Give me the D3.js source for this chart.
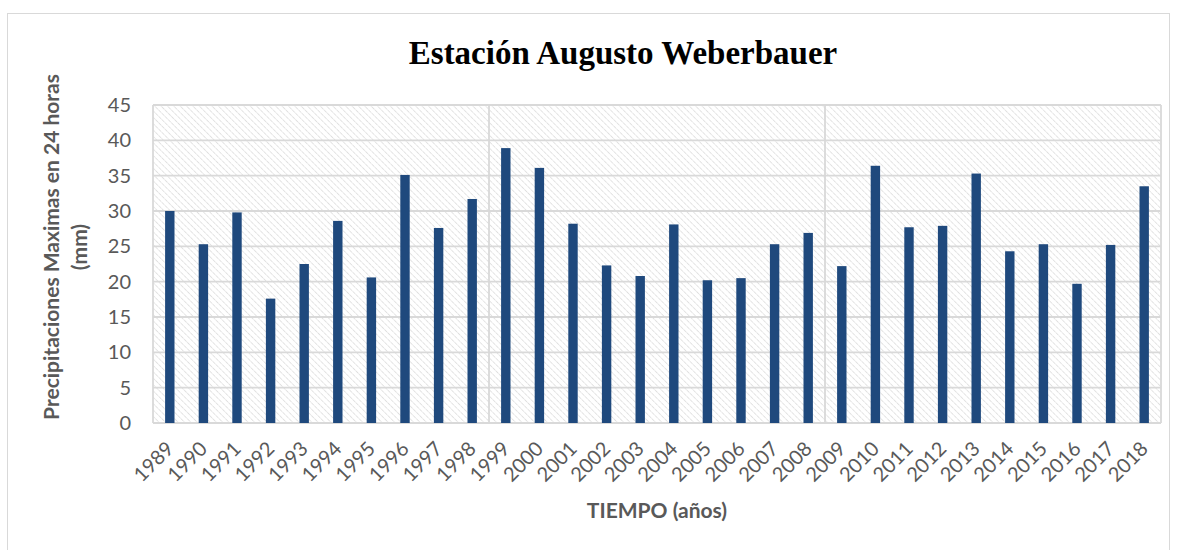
<!DOCTYPE html>
<html>
<head>
<meta charset="utf-8">
<script src="https://cdn.jsdelivr.net/npm/d3@7"></script>
<style>
  body { margin: 0; background: #fff; }
  text { font-family: Lato, "Liberation Sans", sans-serif; fill: #595959; }
</style>
</head>
<body>
<div id="chart"></div>
<script>
// Data
var years = ["1989", "1990", "1991", "1992", "1993", "1994", "1995", "1996", "1997", "1998",
    "1999", "2000", "2001", "2002", "2003", "2004", "2005", "2006", "2007", "2008",
    "2009", "2010", "2011", "2012", "2013", "2014", "2015", "2016", "2017", "2018"];
var precip = [30.0, 25.3, 29.8, 17.6, 22.5, 28.6, 20.6, 35.1, 27.6, 31.7,
    38.9, 36.1, 28.2, 22.3, 20.8, 28.1, 20.2, 20.5, 25.3, 26.9,
    22.2, 36.4, 27.7, 27.9, 35.3, 24.3, 25.3, 19.7, 25.2, 33.5];
var yTicks = [0, 5, 10, 15, 20, 25, 30, 35, 40, 45];

var width = 1177,
    height = 550,
    margin = { top: 105, right: 16, bottom: 127, left: 153 };

var svg = d3.select("#chart").append("svg")
    .attr("width", width)
    .attr("height", height);

// hatch pattern for the plot area (dashed downward diagonals)
var defs = svg.append("defs");
var pat = defs.append("pattern")
    .attr("id", "hatch")
    .attr("patternUnits", "userSpaceOnUse")
    .attr("width", 4.5)
    .attr("height", 4.5)
    .attr("patternTransform", "rotate(-45)");
pat.append("rect").attr("width", 4.5).attr("height", 4.5).attr("fill", "#fff");
pat.append("line")
    .attr("x1", 0).attr("y1", 0).attr("x2", 0).attr("y2", 4.5)
    .attr("stroke", "#d8d8d8")
    .attr("stroke-width", 1.4)
    .attr("stroke-dasharray", "2.2,0.8");

// outer chart border
svg.append("rect")
    .attr("x", 7.5).attr("y", 13.5)
    .attr("width", 1162).attr("height", 545)
    .attr("fill", "none")
    .attr("stroke", "#d9d9d9");

var w = width - margin.left - margin.right,
    h = height - margin.top - margin.bottom;

var g = svg.append("g")
    .attr("transform", "translate(" + margin.left + "," + margin.top + ")");

var x = d3.scaleBand()
    .domain(years)
    .range([0, w])
    .paddingInner(0.72)
    .paddingOuter(0.36);

var y = d3.scaleLinear()
    .domain([0, 45])
    .range([h, 0]);

g.append("rect")
    .attr("width", w)
    .attr("height", h)
    .attr("fill", "url(#hatch)");

// horizontal gridlines
g.selectAll(".hgrid")
    .data(yTicks)
    .enter().append("line")
    .attr("class", "hgrid")
    .attr("x1", 0).attr("x2", w)
    .attr("y1", d => y(d)).attr("y2", d => y(d))
    .attr("stroke", "#d9d9d9")
    .attr("stroke-width", 1.8);

// vertical gridlines every 10 categories
var step = w / years.length;
g.selectAll(".vgrid")
    .data([0, 10, 20, 30])
    .enter().append("line")
    .attr("class", "vgrid")
    .attr("x1", d => d * step).attr("x2", d => d * step)
    .attr("y1", 0).attr("y2", h)
    .attr("stroke", "#d9d9d9")
    .attr("stroke-width", 1.8);

// bars
g.selectAll(".bar")
    .data(precip)
    .enter().append("rect")
    .attr("class", "bar")
    .attr("x", (d, i) => x(years[i]))
    .attr("y", d => y(d))
    .attr("width", x.bandwidth())
    .attr("height", d => h - y(d))
    .attr("fill", "#1f497d");

// y axis
var yAxis = d3.axisLeft(y).tickValues(yTicks).tickSize(0).tickPadding(22);
var ya = g.append("g").call(yAxis);
ya.select(".domain").remove();
ya.selectAll("text")
    .style("font-size", "20px")
    .style("fill", "#595959");

// x axis
var xAxis = d3.axisBottom(x).tickSize(0);
var xa = g.append("g")
    .attr("transform", "translate(0," + h + ")")
    .call(xAxis);
xa.select(".domain").remove();
xa.selectAll("text")
    .style("font-size", "20px")
    .style("fill", "#595959")
    .style("text-anchor", "end")
    .attr("dx", 0)
    .attr("dy", 0)
    .attr("transform", "translate(3,25) rotate(-45)");

// title
svg.append("text")
    .attr("x", 623)
    .attr("y", 64)
    .attr("text-anchor", "middle")
    .style("font-family", "'Liberation Serif', serif")
    .style("font-weight", "bold")
    .style("font-size", "33px")
    .style("fill", "#000")
    .text("Estación Augusto Weberbauer");

// axis titles
svg.append("text")
    .attr("x", margin.left + w / 2)
    .attr("y", 518)
    .attr("text-anchor", "middle")
    .style("font-weight", "bold")
    .style("font-size", "21px")
    .text("TIEMPO (años)");

var yt = svg.append("text")
    .attr("transform", "translate(59,247) rotate(-90)")
    .attr("text-anchor", "middle")
    .style("font-weight", "bold")
    .style("font-size", "21px");
yt.append("tspan").attr("x", 0).attr("y", 0).text("Precipitaciones Maximas en 24 horas");
yt.append("tspan").attr("x", 0).attr("y", 28).text("(mm)");
</script>
</body>
</html>
